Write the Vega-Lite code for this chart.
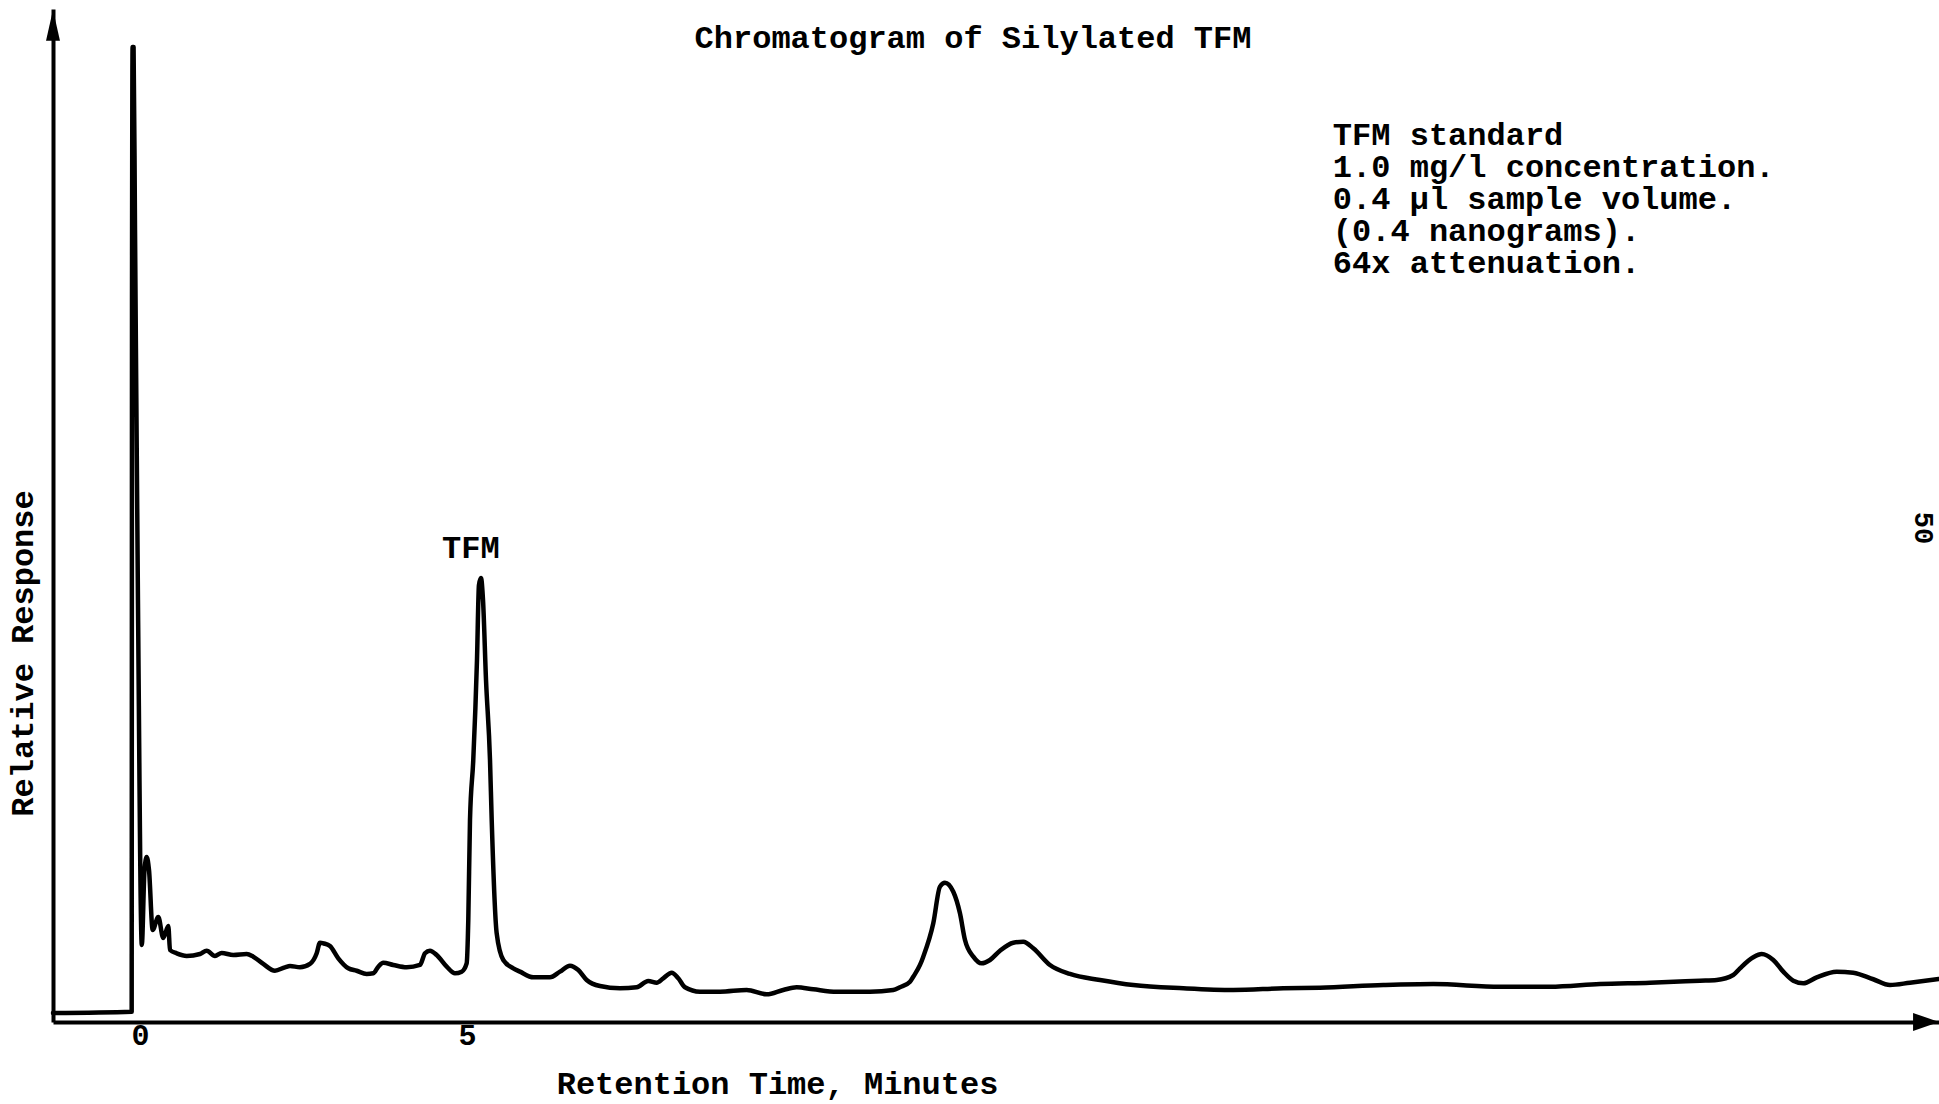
{
  "$schema": "https://vega.github.io/schema/vega-lite/v6.json",
  "width": 1886,
  "height": 1013,
  "autosize": {"type": "none"},
  "padding": {"left": 53, "top": 9, "right": 0, "bottom": 82},
  "background": "white",
  "config": {"font": "Liberation Mono", "view": {"stroke": null}},
  "title": {
    "text": "Chromatogram of Silylated TFM",
    "font": "Liberation Mono",
    "fontSize": 32,
    "fontWeight": "bold",
    "color": "black",
    "anchor": "middle",
    "baseline": "alphabetic",
    "offset": -71,
    "dx": -23
  },
  "datasets": {
    "trace": [
      {"i": 1, "minutes": -1.330, "response": 0.89},
      {"i": 2, "minutes": -0.127, "response": 1.02},
      {"i": 3, "minutes": -0.122, "response": 71.27},
      {"i": 4, "minutes": -0.113, "response": 96.25},
      {"i": 5, "minutes": -0.098, "response": 96.25},
      {"i": 6, "minutes": -0.076, "response": 78.18},
      {"i": 7, "minutes": -0.031, "response": 41.66},
      {"i": 8, "minutes": 0.028, "response": 7.60},
      {"i": 9, "minutes": 0.069, "response": 15.00},
      {"i": 10, "minutes": 0.102, "response": 16.29},
      {"i": 11, "minutes": 0.138, "response": 15.00},
      {"i": 12, "minutes": 0.194, "response": 9.08},
      {"i": 13, "minutes": 0.280, "response": 10.37},
      {"i": 14, "minutes": 0.356, "response": 8.29},
      {"i": 15, "minutes": 0.433, "response": 9.48},
      {"i": 16, "minutes": 0.459, "response": 7.11},
      {"i": 17, "minutes": 0.561, "response": 6.78},
      {"i": 18, "minutes": 0.714, "response": 6.52},
      {"i": 19, "minutes": 0.917, "response": 6.71},
      {"i": 20, "minutes": 1.020, "response": 7.04},
      {"i": 21, "minutes": 1.147, "response": 6.52},
      {"i": 22, "minutes": 1.249, "response": 6.81},
      {"i": 23, "minutes": 1.427, "response": 6.61},
      {"i": 24, "minutes": 1.631, "response": 6.71},
      {"i": 25, "minutes": 1.732, "response": 6.45},
      {"i": 26, "minutes": 1.885, "response": 5.73},
      {"i": 27, "minutes": 2.064, "response": 5.06},
      {"i": 28, "minutes": 2.217, "response": 5.40},
      {"i": 29, "minutes": 2.294, "response": 5.53},
      {"i": 30, "minutes": 2.446, "response": 5.40},
      {"i": 31, "minutes": 2.599, "response": 5.73},
      {"i": 32, "minutes": 2.702, "response": 6.78},
      {"i": 33, "minutes": 2.752, "response": 7.83},
      {"i": 34, "minutes": 2.813, "response": 7.75},
      {"i": 35, "minutes": 2.905, "response": 7.50},
      {"i": 36, "minutes": 3.032, "response": 6.29},
      {"i": 37, "minutes": 3.185, "response": 5.30},
      {"i": 38, "minutes": 3.313, "response": 5.06},
      {"i": 39, "minutes": 3.466, "response": 4.74},
      {"i": 40, "minutes": 3.567, "response": 4.81},
      {"i": 41, "minutes": 3.644, "response": 5.46},
      {"i": 42, "minutes": 3.720, "response": 5.85},
      {"i": 43, "minutes": 3.873, "response": 5.63},
      {"i": 44, "minutes": 4.078, "response": 5.40},
      {"i": 45, "minutes": 4.281, "response": 5.63},
      {"i": 46, "minutes": 4.358, "response": 6.78},
      {"i": 47, "minutes": 4.434, "response": 7.04},
      {"i": 48, "minutes": 4.537, "response": 6.61},
      {"i": 49, "minutes": 4.690, "response": 5.46},
      {"i": 50, "minutes": 4.817, "response": 4.81},
      {"i": 51, "minutes": 4.919, "response": 4.97},
      {"i": 52, "minutes": 4.995, "response": 5.79},
      {"i": 53, "minutes": 5.020, "response": 10.07},
      {"i": 54, "minutes": 5.046, "response": 19.94},
      {"i": 55, "minutes": 5.096, "response": 25.86},
      {"i": 56, "minutes": 5.153, "response": 35.74},
      {"i": 57, "minutes": 5.183, "response": 43.14},
      {"i": 58, "minutes": 5.214, "response": 43.83},
      {"i": 59, "minutes": 5.245, "response": 41.66},
      {"i": 60, "minutes": 5.291, "response": 33.76},
      {"i": 61, "minutes": 5.352, "response": 25.86},
      {"i": 62, "minutes": 5.378, "response": 19.94},
      {"i": 63, "minutes": 5.454, "response": 8.76},
      {"i": 64, "minutes": 5.555, "response": 6.12},
      {"i": 65, "minutes": 5.708, "response": 5.30},
      {"i": 66, "minutes": 5.810, "response": 4.97},
      {"i": 67, "minutes": 6.014, "response": 4.41},
      {"i": 68, "minutes": 6.269, "response": 4.41},
      {"i": 69, "minutes": 6.422, "response": 4.97},
      {"i": 70, "minutes": 6.575, "response": 5.56},
      {"i": 71, "minutes": 6.702, "response": 5.13},
      {"i": 72, "minutes": 6.830, "response": 4.15},
      {"i": 73, "minutes": 7.034, "response": 3.55},
      {"i": 74, "minutes": 7.339, "response": 3.33},
      {"i": 75, "minutes": 7.595, "response": 3.43},
      {"i": 76, "minutes": 7.772, "response": 4.05},
      {"i": 77, "minutes": 7.901, "response": 3.88},
      {"i": 78, "minutes": 8.001, "response": 4.31},
      {"i": 79, "minutes": 8.130, "response": 4.87},
      {"i": 80, "minutes": 8.231, "response": 4.31},
      {"i": 81, "minutes": 8.333, "response": 3.43},
      {"i": 82, "minutes": 8.563, "response": 2.99},
      {"i": 83, "minutes": 8.869, "response": 2.99},
      {"i": 84, "minutes": 9.277, "response": 3.16},
      {"i": 85, "minutes": 9.583, "response": 2.73},
      {"i": 86, "minutes": 9.836, "response": 3.16},
      {"i": 87, "minutes": 10.041, "response": 3.43},
      {"i": 88, "minutes": 10.295, "response": 3.23},
      {"i": 89, "minutes": 10.653, "response": 2.99},
      {"i": 90, "minutes": 11.162, "response": 2.99},
      {"i": 91, "minutes": 11.518, "response": 3.16},
      {"i": 92, "minutes": 11.621, "response": 3.43},
      {"i": 93, "minutes": 11.774, "response": 3.98},
      {"i": 94, "minutes": 11.824, "response": 4.47},
      {"i": 95, "minutes": 11.927, "response": 5.63},
      {"i": 96, "minutes": 11.977, "response": 6.45},
      {"i": 97, "minutes": 12.130, "response": 9.74},
      {"i": 98, "minutes": 12.232, "response": 13.36},
      {"i": 99, "minutes": 12.309, "response": 13.75},
      {"i": 100, "minutes": 12.436, "response": 12.86},
      {"i": 101, "minutes": 12.538, "response": 10.73},
      {"i": 102, "minutes": 12.615, "response": 8.09},
      {"i": 103, "minutes": 12.742, "response": 6.45},
      {"i": 104, "minutes": 12.869, "response": 5.79},
      {"i": 105, "minutes": 12.997, "response": 6.12},
      {"i": 106, "minutes": 13.150, "response": 7.04},
      {"i": 107, "minutes": 13.353, "response": 7.83},
      {"i": 108, "minutes": 13.506, "response": 7.93},
      {"i": 109, "minutes": 13.659, "response": 7.28},
      {"i": 110, "minutes": 13.914, "response": 5.63},
      {"i": 111, "minutes": 14.220, "response": 4.74},
      {"i": 112, "minutes": 14.679, "response": 4.15},
      {"i": 113, "minutes": 15.188, "response": 3.65},
      {"i": 114, "minutes": 15.953, "response": 3.33},
      {"i": 115, "minutes": 16.717, "response": 3.16},
      {"i": 116, "minutes": 17.482, "response": 3.33},
      {"i": 117, "minutes": 18.043, "response": 3.39},
      {"i": 118, "minutes": 19.011, "response": 3.65},
      {"i": 119, "minutes": 19.775, "response": 3.75},
      {"i": 120, "minutes": 20.795, "response": 3.48},
      {"i": 121, "minutes": 21.560, "response": 3.48},
      {"i": 122, "minutes": 22.324, "response": 3.75},
      {"i": 123, "minutes": 23.089, "response": 3.88},
      {"i": 124, "minutes": 23.853, "response": 4.08},
      {"i": 125, "minutes": 24.109, "response": 4.15},
      {"i": 126, "minutes": 24.362, "response": 4.64},
      {"i": 127, "minutes": 24.465, "response": 5.30},
      {"i": 128, "minutes": 24.668, "response": 6.39},
      {"i": 129, "minutes": 24.797, "response": 6.71},
      {"i": 130, "minutes": 24.974, "response": 6.12},
      {"i": 131, "minutes": 25.127, "response": 4.97},
      {"i": 132, "minutes": 25.280, "response": 4.08},
      {"i": 133, "minutes": 25.433, "response": 3.82},
      {"i": 134, "minutes": 25.638, "response": 4.41},
      {"i": 135, "minutes": 25.943, "response": 4.97},
      {"i": 136, "minutes": 26.197, "response": 4.87},
      {"i": 137, "minutes": 26.503, "response": 4.22},
      {"i": 138, "minutes": 26.758, "response": 3.65},
      {"i": 139, "minutes": 27.064, "response": 3.88},
      {"i": 140, "minutes": 27.508, "response": 4.24}
    ],
    "yArrow": [{"minutes": -1.33, "response": 98.4}],
    "xArrow": [{"minutes": 27.31, "response": 0}],
    "notes": [{"minutes": 18.24, "response": 86.57, "text": "TFM standard\n1.0 mg/l concentration.\n0.4 µl sample volume.\n(0.4 nanograms).\n64x attenuation."}],
    "peakLabel": [{"minutes": 5.06, "response": 45.8, "text": "TFM"}],
    "pageNo": [{"minutes": 27.26, "response": 48.77, "text": "50"}]
  },
  "encoding": {
    "x": {
      "field": "minutes",
      "type": "quantitative",
      "scale": {"domain": [-1.33, 27.508], "nice": false, "zero": false},
      "axis": {
        "values": [0, 5],
        "grid": false,
        "ticks": false,
        "tickSize": 0,
        "domain": true,
        "domainColor": "black",
        "domainWidth": 4,
        "labelFont": "Liberation Mono",
        "labelFontSize": 30,
        "labelFontWeight": "bold",
        "labelColor": "black",
        "labelPadding": -2,
        "labelFlush": false,
        "title": "Retention Time, Minutes",
        "titleFont": "Liberation Mono",
        "titleFontSize": 32,
        "titleFontWeight": "bold",
        "titleColor": "black",
        "titleX": 724,
        "titleY": 61,
        "titleAlign": "center",
        "titleBaseline": "middle"
      }
    },
    "y": {
      "field": "response",
      "type": "quantitative",
      "scale": {"domain": [0, 100], "nice": false},
      "axis": {
        "grid": false,
        "ticks": false,
        "labels": false,
        "domain": true,
        "domainColor": "black",
        "domainWidth": 4,
        "title": "Relative Response",
        "titleFont": "Liberation Mono",
        "titleFontSize": 32,
        "titleFontWeight": "bold",
        "titleColor": "black",
        "titleAngle": 270,
        "titleX": -31,
        "titleY": 644,
        "titleAlign": "center",
        "titleBaseline": "middle"
      }
    }
  },
  "layer": [
    {
      "data": {"name": "trace"},
      "mark": {"type": "line", "color": "black", "strokeWidth": 4.5, "strokeJoin": "round", "strokeCap": "round", "interpolate": "monotone"},
      "encoding": {"order": {"field": "i", "type": "quantitative"}}
    },
    {
      "data": {"name": "yArrow"},
      "mark": {"type": "point", "shape": "M0,-1L0.45,1L-0.45,1Z", "size": 961, "filled": true, "color": "black", "opacity": 1}
    },
    {
      "data": {"name": "xArrow"},
      "mark": {"type": "point", "shape": "M1,0L-1,-0.7L-1,0.7Z", "size": 676, "filled": true, "color": "black", "opacity": 1}
    },
    {
      "data": {"name": "notes"},
      "mark": {"type": "text", "align": "left", "baseline": "alphabetic", "lineBreak": "\n", "lineHeight": 32, "font": "Liberation Mono", "fontSize": 32, "fontWeight": "bold", "color": "black"},
      "encoding": {"text": {"field": "text"}}
    },
    {
      "data": {"name": "peakLabel"},
      "mark": {"type": "text", "align": "center", "baseline": "alphabetic", "font": "Liberation Mono", "fontSize": 32, "fontWeight": "bold", "color": "black"},
      "encoding": {"text": {"field": "text"}}
    },
    {
      "data": {"name": "pageNo"},
      "mark": {"type": "text", "align": "center", "baseline": "middle", "angle": 90, "font": "Liberation Mono", "fontSize": 27, "fontWeight": "bold", "color": "black"},
      "encoding": {"text": {"field": "text"}}
    }
  ]
}
